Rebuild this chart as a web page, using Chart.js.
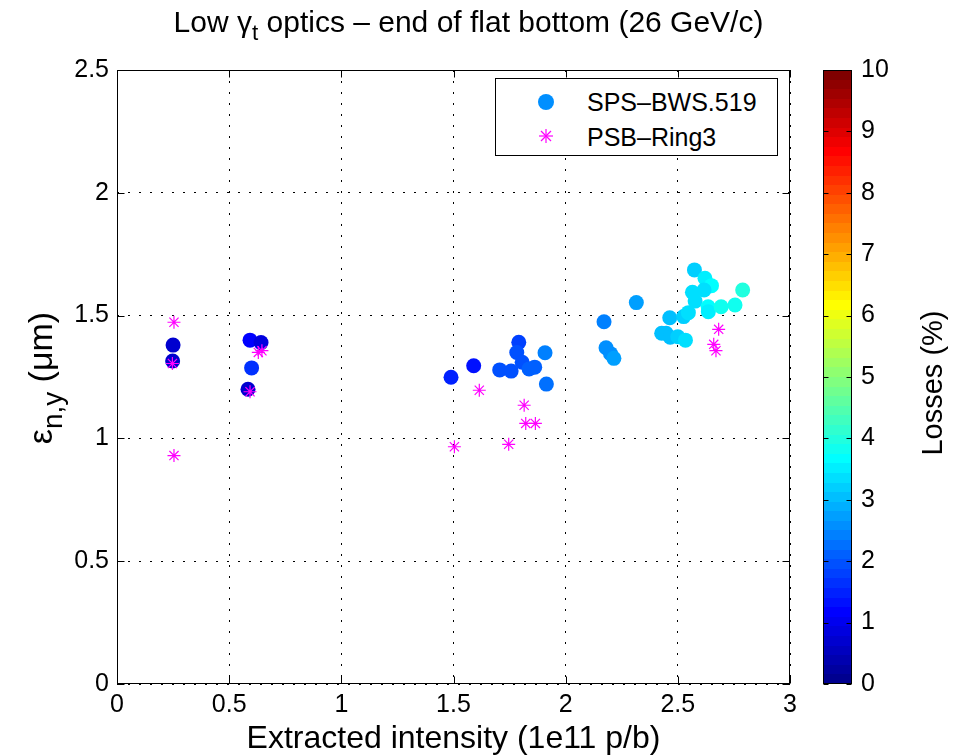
<!DOCTYPE html>
<html>
<head>
<meta charset="utf-8">
<script src="https://cdn.jsdelivr.net/npm/chart.js@4.4.0/dist/chart.umd.min.js"></script>
<style>
  body { margin: 0; background: #fff; }
  #wrap { position: relative; width: 955px; height: 756px; font-family: "Liberation Sans", Arial, sans-serif; color: #000; }
  canvas { position: absolute; top: 0; }
  .lbl { position: absolute; white-space: nowrap; text-align: center; }
  sub { font-size: 0.75em; vertical-align: -0.35em; }
  #legend { position: absolute; left: 495px; top: 78px; width: 281px; height: 76px; border: 1px solid #000; background: #fff; font-size: 25px; }
  #legend div { position: absolute; left: 91px; line-height: 25px; }
  #legend svg { position: absolute; left: 38px; }
</style>
</head>
<body>
<div id="wrap">
  <canvas id="main" width="955" height="756" style="left:0"></canvas>
  <canvas id="cbar" width="155" height="756" style="left:800px"></canvas>
  <div class="lbl" style="left:132px; width:673px; top:5px; font-size:30px;">Low γ<sub>t</sub> optics – end of flat bottom (26 GeV/c)</div>
  <div class="lbl" style="left:-110px; width:300px; top:358px; height:40px; line-height:40px; font-size:34px; transform:rotate(-90deg);">ε<sub style="font-size:0.82em">n,y</sub> (μm)</div>
  <div class="lbl" style="left:782px; width:300px; top:363px; height:40px; line-height:40px; font-size:29px; transform:rotate(-90deg);">Losses (%)</div>
  <div id="legend">
    <svg width="24" height="24" style="top:11px"><circle cx="12" cy="12" r="8" fill="#008fff"/></svg>
    <div style="top:11px">SPS–BWS.519</div>
    <svg width="24" height="24" style="top:45px"><g stroke="#ff00ff" stroke-width="1.2"><line x1="12" y1="5" x2="12" y2="19"/><line x1="5" y1="12" x2="19" y2="12"/><line x1="7" y1="7" x2="17" y2="17"/><line x1="17" y1="7" x2="7" y2="17"/></g></svg>
    <div style="top:46px">PSB–Ring3</div>
  </div>
</div>
<script>
// SPS wire scanner: intensity, vertical emittance, losses (%)
const spsX = [0.25, 0.248, 0.593, 0.642, 0.60, 0.584,
  1.489, 1.590, 1.706, 1.757, 1.791, 1.782, 1.806, 1.837, 1.862, 1.908, 1.914,
  2.171, 2.18, 2.20, 2.215, 2.315, 2.428, 2.448, 2.466, 2.50, 2.534,
  2.464, 2.526, 2.547, 2.565, 2.574, 2.621, 2.65, 2.617, 2.577, 2.635, 2.636, 2.693, 2.755, 2.789];
const spsY = [1.38, 1.315, 1.40, 1.39, 1.287, 1.20,
  1.249, 1.296, 1.279, 1.274, 1.391, 1.35, 1.31, 1.283, 1.29, 1.349, 1.221,
  1.475, 1.369, 1.345, 1.326, 1.553, 1.428, 1.428, 1.412, 1.414, 1.40,
  1.491, 1.496, 1.512, 1.595, 1.686, 1.652, 1.622, 1.604, 1.559, 1.536, 1.516, 1.536, 1.543, 1.604];
const spsLoss = [0.7, 0.7, 1.2, 0.9, 1.6, 0.7,
  1.5, 1.4, 2.0, 2.0, 1.8, 1.9, 2.0, 2.1, 2.1, 2.4, 2.2,
  2.4, 2.6, 2.6, 2.7, 2.8, 3.0, 3.1, 3.1, 3.2, 3.3,
  3.1, 3.2, 3.3, 3.3, 3.2, 3.5, 3.7, 3.4, 3.3, 3.7, 3.5, 3.9, 3.8, 4.0];

// PSB ring 3
const psbX = [0.254, 0.247, 0.254, 0.63, 0.646, 0.593, 1.615, 1.815, 1.822, 1.865, 1.746, 1.504, 2.682, 2.66, 2.67];
const psbY = [1.473, 1.305, 0.93, 1.35, 1.357, 1.19, 1.196, 1.135, 1.061, 1.061, 0.976, 0.966, 1.444, 1.383, 1.357];

const xTicks = [0, 0.5, 1, 1.5, 2, 2.5, 3];
const yTicks = [0, 0.5, 1, 1.5, 2, 2.5];
const lossRange = [0, 10];

const FONT = '"Liberation Sans", Arial, sans-serif';

// matlab jet(64)
function jet(k) {
  const x = k / 64;
  const c = v => Math.round(255 * Math.max(0, Math.min(1, v)));
  return 'rgb(' + c(1.5 - Math.abs(4 * x - 3)) + ',' + c(1.5 - Math.abs(4 * x - 2)) + ',' + c(1.5 - Math.abs(4 * x - 1)) + ')';
}
function lossColor(v) {
  const k = Math.min(64, Math.floor((v - lossRange[0]) / (lossRange[1] - lossRange[0]) * 64) + 1);
  return jet(k);
}

// solid box + inward tick marks like matlab axes
const framePlugin = {
  id: 'frame',
  afterDraw(chart, args, opts) {
    const { ctx, chartArea: a } = chart;
    const L = Math.round(a.left) + 0.5, R = Math.round(a.right) - 0.5;
    const T = Math.round(a.top) + 0.5, B = Math.round(a.bottom) - 0.5;
    const len = opts.tick || 0;
    ctx.save();
    ctx.strokeStyle = '#000';
    ctx.lineWidth = 1;
    ctx.beginPath();
    Object.values(chart.scales).forEach(s => {
      if (!s.options.display) return;
      s.ticks.forEach(t => {
        const p = Math.round(s.getPixelForValue(t.value)) + 0.5;
        if (s.isHorizontal()) {
          ctx.moveTo(p, B); ctx.lineTo(p, B - len);
          ctx.moveTo(p, T); ctx.lineTo(p, T + len);
        } else {
          ctx.moveTo(L, p); ctx.lineTo(L + len, p);
          ctx.moveTo(R, p); ctx.lineTo(R - len, p);
        }
      });
    });
    ctx.stroke();
    ctx.strokeRect(L, T, R - L, B - T);
    ctx.restore();
  }
};

const gridStyle = { color: '#000', lineWidth: 1, drawTicks: false };
const borderStyle = { display: false, dash: [2, 9] };
const tickFmt = v => String(v);

new Chart(document.getElementById('main'), {
  type: 'scatter',
  data: {
    datasets: [{
      label: 'PSB–Ring3',
      data: psbX.map((x, i) => ({ x: x, y: psbY[i] })),
      pointStyle: 'star',
      pointRadius: 6.5,
      borderColor: '#ff00ff',
      backgroundColor: '#ff00ff',
      borderWidth: 1.2,
      order: 0
    }, {
      label: 'SPS–BWS.519',
      data: spsX.map((x, i) => ({ x: x, y: spsY[i] })),
      pointStyle: 'circle',
      pointRadius: 7.5,
      backgroundColor: spsLoss.map(lossColor),
      borderColor: spsLoss.map(lossColor),
      borderWidth: 0,
      order: 1
    }]
  },
  options: {
    responsive: false,
    animation: false,
    devicePixelRatio: 1,
    layout: { padding: { left: 0, right: 165, top: 70, bottom: 0 } },
    plugins: { legend: { display: false }, tooltip: { enabled: false }, frame: { tick: 7 } },
    scales: {
      x: {
        type: 'linear', min: 0, max: 3,
        afterBuildTicks: s => { s.ticks = xTicks.map(v => ({ value: v })); },
        afterFit: s => { s.height = 72; },
        grid: gridStyle, border: borderStyle,
        ticks: { color: '#000', font: { family: FONT, size: 25 }, padding: 6, maxRotation: 0, callback: tickFmt },
        title: { display: true, text: 'Extracted intensity (1e11 p/b)', color: '#000', font: { family: FONT, size: 32 }, padding: { top: 0, bottom: -2 } }
      },
      y: {
        type: 'linear', min: 0, max: 2.5,
        afterBuildTicks: s => { s.ticks = yTicks.map(v => ({ value: v })); },
        afterFit: s => { s.width = 117; },
        grid: gridStyle, border: borderStyle,
        ticks: { color: '#000', font: { family: FONT, size: 25 }, padding: 8, callback: tickFmt }
      }
    }
  },
  plugins: [framePlugin]
});

// colorbar
new Chart(document.getElementById('cbar'), {
  type: 'bar',
  data: {
    labels: [''],
    datasets: [{
      data: [lossRange[1]],
      barPercentage: 1,
      categoryPercentage: 1,
      backgroundColor: ctx => {
        const a = ctx.chart.chartArea;
        if (!a) return '#000';
        const g = ctx.chart.ctx.createLinearGradient(0, a.bottom, 0, a.top);
        for (let k = 1; k <= 64; k++) {
          g.addColorStop((k - 1) / 64, jet(k));
          g.addColorStop(k / 64, jet(k));
        }
        return g;
      }
    }]
  },
  options: {
    responsive: false,
    animation: false,
    devicePixelRatio: 1,
    layout: { padding: { left: 23, right: 0, top: 70, bottom: 72 } },
    plugins: { legend: { display: false }, tooltip: { enabled: false }, frame: { tick: 5 } },
    scales: {
      x: { display: false },
      y: {
        position: 'right', min: lossRange[0], max: lossRange[1],
        afterFit: s => { s.width = 103; },
        grid: { drawOnChartArea: false, drawTicks: false },
        border: { display: false },
        ticks: { stepSize: 1, color: '#000', font: { family: FONT, size: 25 }, padding: 9 }
      }
    }
  },
  plugins: [framePlugin]
});
</script>
</body>
</html>
